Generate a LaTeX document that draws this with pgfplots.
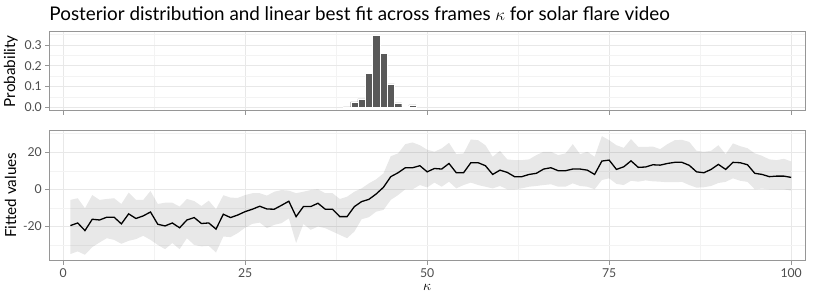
\documentclass[border=0pt]{standalone}
\usepackage{pgfplots}
\pgfplotsset{compat=1.18}
\usepgfplotslibrary{fillbetween}
\usepackage{pgfplotstable}
\usepackage{fontspec}
\setmainfont{Lato}
\definecolor{tickgray}{RGB}{77,77,77}
\definecolor{framegray}{RGB}{150,150,150}
\definecolor{gridmaj}{RGB}{232,232,232}
\definecolor{gridmin}{RGB}{243,243,243}
\definecolor{barcol}{RGB}{89,89,89}

\pgfplotstableread{
k line upper lower
1 -19.5 -5.7 -34.8
2 -18.1 -4.8 -33.4
3 -22.2 -10.2 -35.2
4 -16.1 -3.1 -31.1
5 -16.5 -5.7 -28.6
6 -15.0 -5.2 -26.3
7 -15.0 -4.8 -27.2
8 -18.6 -7.9 -29.3
9 -13.2 -1.8 -27.7
10 -15.7 -5.7 -26.8
11 -14.3 -5.7 -25.0
12 -12.2 -0.9 -27.2
13 -18.8 -7.9 -29.9
14 -19.7 -7.2 -32.2
15 -18.1 -7.2 -28.9
16 -20.7 -9.3 -32.2
17 -16.5 -5.2 -26.3
18 -15.2 -6.3 -29.9
19 -18.4 -9.0 -30.7
20 -18.1 -6.1 -30.4
21 -21.4 -10.7 -34.0
22 -13.4 -3.2 -25.4
23 -15.2 -4.5 -25.7
24 -13.8 -4.6 -23.5
25 -12.0 -3.1 -20.6
26 -10.7 -2.1 -18.6
27 -9.1 -2.1 -17.9
28 -10.6 -3.4 -20.9
29 -10.7 -1.3 -19.1
30 -8.6 -0.4 -18.2
31 -6.4 -0.7 -15.6
32 -14.7 -2.1 -28.9
33 -9.3 -1.3 -18.6
34 -9.3 -0.4 -21.8
35 -7.5 0.0 -20.0
36 -10.7 -2.1 -20.9
37 -10.7 -2.1 -22.7
38 -14.7 -5.2 -24.5
39 -14.7 -4.0 -26.3
40 -9.3 -1.3 -22.7
41 -6.6 0.5 -16.1
42 -5.4 3.2 -15.0
43 -2.5 5.4 -12.0
44 1.1 8.6 -11.1
45 6.8 17.8 -5.7
46 8.9 19.3 -3.1
47 11.6 24.3 0.0
48 11.6 25.2 0.0
49 12.7 23.7 2.3
50 9.4 21.3 1.0
51 11.2 20.2 3.6
52 10.9 22.0 1.4
53 13.9 25.0 4.1
54 8.9 18.9 0.5
55 8.9 19.3 2.3
56 14.3 26.8 3.6
57 14.3 26.4 2.3
58 12.7 23.7 1.4
59 8.0 17.5 0.5
60 10.3 20.7 1.8
61 9.1 16.1 0.0
62 6.8 15.7 0.0
63 6.8 15.7 0.5
64 8.0 16.1 1.4
65 8.6 18.4 1.8
66 10.9 20.2 2.3
67 11.6 20.2 2.7
68 10.0 18.4 1.4
69 10.0 19.3 1.4
70 10.9 24.3 3.2
71 10.9 18.9 1.8
72 10.3 20.2 1.4
73 8.0 17.5 0.0
74 15.2 28.6 5.0
75 15.7 26.4 5.9
76 10.7 23.7 2.9
77 12.1 22.3 2.3
78 15.3 27.0 4.6
79 11.8 22.8 4.1
80 12.0 22.8 4.8
81 13.2 23.0 4.3
82 13.0 21.6 4.1
83 13.9 24.3 3.8
84 14.5 26.4 3.8
85 14.5 26.6 4.0
86 12.9 25.5 2.3
87 9.4 20.7 0.9
88 8.9 20.2 1.1
89 10.7 20.7 1.8
90 13.4 23.7 3.4
91 10.7 18.9 4.0
92 14.5 24.7 5.9
93 14.3 23.2 4.6
94 13.2 22.1 4.0
95 8.6 19.3 0.0
96 8.0 18.0 0.4
97 6.8 16.1 0.0
98 7.1 15.7 0.0
99 7.1 16.4 0.0
100 6.4 15.0 -0.7
}\fitdata

\pgfplotstableread{
k prob
39 0.002
40 0.026
41 0.041
42 0.164
43 0.348
44 0.261
45 0.113
46 0.021
47 0.003
48 0.011
}\probdata

\pgfplotsset{
  panel/.style={
    scale only axis,
    anchor=south west,
    width=755.7bp,
    xmin=-1.9, xmax=101.9,
    axis line style={framegray, line width=0.8bp},
    tick style={framegray, line width=0.8bp},
    tick align=outside,
    major tick length=4bp,
    minor tick length=0bp,
    xtick pos=bottom, ytick pos=left,
    xtick={0,25,50,75,100},
    minor xtick={12.5,37.5,62.5,87.5},
    grid=both,
    major grid style={gridmaj, line width=0.6bp},
    minor grid style={gridmin, line width=0.4bp},
    /pgf/number format/assume math mode=true,
    tick label style={font=\fontsize{12.3}{13}\selectfont, text=tickgray},
    label style={font=\fontsize{15.3}{16}\selectfont},
  }
}

\begin{document}
\begin{tikzpicture}[x=1bp,y=1bp]
\begin{axis}[panel,
  at={(49.3bp,194.2bp)},
  height=79.3bp,
  ymin=-0.017, ymax=0.365,
  ytick={0,0.1,0.2,0.3},
  minor ytick={0.05,0.15,0.25,0.35},
  yticklabel style={/pgf/number format/.cd, fixed, fixed zerofill, precision=1},
  xticklabels={},
  ylabel={Probability},
  title={Posterior distribution and linear best fit across frames $\kappa$ for solar flare video},
  title style={at={(axis description cs:0,1)}, anchor=base west, yshift=5.5bp, inner sep=0pt, font=\fontsize{18.9}{19}\selectfont},
]
\addplot[ybar, bar width=1, fill=barcol, draw=white, line width=0.3bp] table[x=k, y=prob] {\probdata};
\end{axis}
\begin{axis}[panel,
  at={(49.3bp,44.3bp)},
  height=130.7bp,
  ymin=-38.4, ymax=31.9,
  ytick={-20,0,20},
  minor ytick={-30,-10,10,30},
  ylabel={Fitted values},
  xlabel={$\kappa$},
]
\addplot[name path=U, draw=none, forget plot] table[x=k, y=upper] {\fitdata};
\addplot[name path=L, draw=none, forget plot] table[x=k, y=lower] {\fitdata};
\addplot[fill=black, fill opacity=0.09, draw=none] fill between[of=U and L];
\addplot[black, line width=1.3bp] table[x=k, y=line] {\fitdata};
\end{axis}
\pgfresetboundingbox
\path[use as bounding box] (0,0) rectangle (814,305);
\end{tikzpicture}
\end{document}
